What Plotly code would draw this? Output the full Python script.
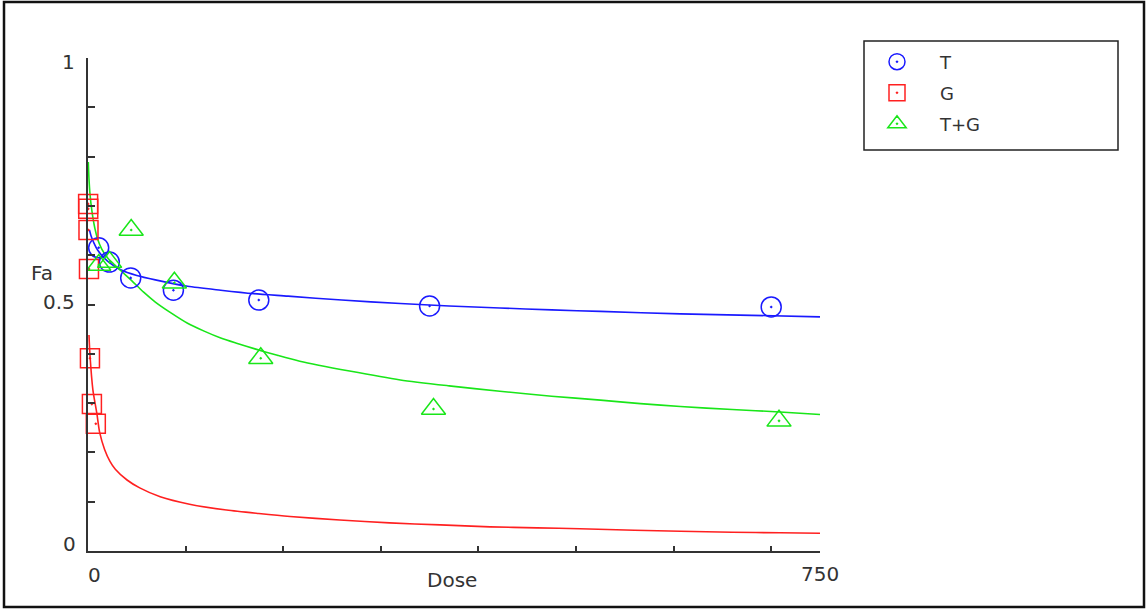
import plotly.graph_objects as go

# ---- data ----
T_dose = [10.94, 21.88, 43.75, 87.5, 175, 350, 700]
T_fa = [0.615, 0.586, 0.554, 0.529, 0.509, 0.497, 0.495]

G_dose = [0.125, 0.25, 0.5, 1, 2, 4, 8]
G_fa = [0.704, 0.694, 0.651, 0.572, 0.391, 0.298, 0.258]

TG_dose = [11.06, 22.13, 44.25, 88.5, 177, 354, 708]
TG_fa = [0.580, 0.586, 0.651, 0.544, 0.391, 0.288, 0.264]

# fitted curves
T_curve_dose = [1.5, 3, 6, 10, 20, 34, 50, 69, 102, 136, 170, 205, 260, 320, 370, 422,
                475, 525, 607, 680, 750]
T_curve_fa = [0.651, 0.640, 0.625, 0.610, 0.588, 0.570, 0.559, 0.550, 0.537, 0.529,
              0.522, 0.517, 0.509, 0.502, 0.497, 0.493, 0.489, 0.486, 0.481, 0.478, 0.475]

G_curve_dose = [1, 2, 5, 9, 12, 17, 22.5, 28, 40, 53, 74, 104, 142, 175, 207, 258, 309,
                361, 412, 460, 504, 560, 607, 660, 709, 750]
G_curve_fa = [0.438, 0.398, 0.327, 0.280, 0.240, 0.206, 0.182, 0.166, 0.144, 0.128,
              0.110, 0.095, 0.083, 0.076, 0.070, 0.063, 0.057, 0.053, 0.049, 0.047,
              0.045, 0.042, 0.040, 0.038, 0.037, 0.036]

TG_curve_dose = [0.3, 1, 2, 4, 7, 10, 14, 20, 27, 34, 45, 57, 69, 85, 102, 119, 136, 153,
                 171, 194, 217, 268, 320, 370, 422, 475, 525, 566, 607, 660, 709, 750]
TG_curve_fa = [0.789, 0.755, 0.725, 0.690, 0.655, 0.632, 0.613, 0.595, 0.581, 0.568,
               0.548, 0.525, 0.505, 0.483, 0.462, 0.446, 0.432, 0.421, 0.410, 0.397,
               0.385, 0.365, 0.347, 0.335, 0.324, 0.314, 0.306, 0.299, 0.293, 0.287,
               0.282, 0.277]

x_tick_vals = [0, 100, 200, 300, 400, 500, 600, 700]
y_tick_vals = [0, 0.1, 0.2, 0.3, 0.4, 0.5, 0.6, 0.7, 0.8, 0.9, 1.0]

BLUE = "#1a1aff"
RED = "#ff2020"
GREEN = "#19e619"
AXIS = "#333333"
TXT = "#333333"
FONT = "DejaVu Sans"
NB = "\u00a0"

fig = go.Figure()

# curves
for xs, ys, c in [(T_curve_dose, T_curve_fa, BLUE),
                  (G_curve_dose, G_curve_fa, RED),
                  (TG_curve_dose, TG_curve_fa, GREEN)]:
    fig.add_trace(go.Scatter(x=xs, y=ys, mode="lines",
                             line=dict(color=c, width=1.6, shape="spline", smoothing=0.7),
                             showlegend=False, hoverinfo="skip"))

# data points
fig.add_trace(go.Scatter(x=T_dose, y=T_fa, mode="markers", name=NB * 4 + "T",
                         marker=dict(symbol="circle-open-dot", size=20,
                                     line=dict(color=BLUE, width=1.5), color=BLUE),
                         cliponaxis=False, legend="legend"))
fig.add_trace(go.Scatter(x=G_dose, y=G_fa, mode="markers", name=NB * 4 + "G",
                         marker=dict(symbol="square-open-dot", size=19,
                                     line=dict(color=RED, width=1.5), color=RED),
                         cliponaxis=False, legend="legend2"))
fig.add_trace(go.Scatter(x=TG_dose, y=TG_fa, mode="markers", name=NB * 4 + "T+G",
                         marker=dict(symbol="triangle-up-open-dot", size=21,
                                     line=dict(color=GREEN, width=1.5), color=GREEN),
                         cliponaxis=False, legend="legend3"))

L, R, T, B = 88, 328, 58, 60
W, H = 1148, 611
pw, ph = W - L - R, H - T - B


def px(xp):
    return (xp - L) / pw


def py(yp):
    return (H - B - yp) / ph


leg_common = dict(bgcolor="rgba(0,0,0,0)", borderwidth=0, xanchor="left", yanchor="middle",
                  font=dict(family=FONT, size=18, color=TXT), itemwidth=30)
fig.update_layout(
    legend=dict(x=px(877), y=py(62), **leg_common),
    legend2=dict(x=px(877), y=py(93), **leg_common),
    legend3=dict(x=px(877), y=py(124), **leg_common),
)

fig.update_layout(
    width=W, height=H,
    margin=dict(l=L, r=R, t=T, b=B, pad=0),
    paper_bgcolor="white", plot_bgcolor="white",
    xaxis=dict(range=[0, 750], showgrid=False, zeroline=False, showline=True,
               linecolor=AXIS, linewidth=2, ticks="inside", ticklen=5, tickwidth=2,
               tickcolor=AXIS, tickvals=x_tick_vals, showticklabels=False),
    yaxis=dict(range=[0, 1], showgrid=False, zeroline=False, showline=True,
               linecolor=AXIS, linewidth=2, ticks="inside", ticklen=7, tickwidth=2,
               tickcolor=AXIS, tickvals=y_tick_vals, showticklabels=False),
    shapes=[
        # legend box
        dict(type="rect", xref="paper", yref="paper", x0=px(864), x1=px(1118),
             y0=py(150), y1=py(41), line=dict(color="#222222", width=1.5)),
        # outer frame
        dict(type="rect", xref="paper", yref="paper", x0=px(4), x1=px(1144),
             y0=py(607), y1=py(2), line=dict(color="#111111", width=2.5)),
    ],
)

f = dict(family=FONT, size=20, color=TXT)
ann = [
    dict(text="1", xref="paper", yref="y", x=0, y=1.0, xshift=-20, yshift=-4),
    dict(text="0.5", xref="paper", yref="y", x=0, y=0.5, xshift=-29, yshift=3),
    dict(text="0", xref="paper", yref="y", x=0, y=0.0, xshift=-19, yshift=7),
    dict(text="Fa", xref="paper", yref="y", x=0, y=0.564, xshift=-46, yshift=0),
    dict(text="0", xref="x", yref="paper", x=0, y=0, xshift=6, yshift=-24),
    dict(text="750", xref="x", yref="paper", x=750, y=0, xshift=0, yshift=-23),
    dict(text="Dose", xref="x", yref="paper", x=373, y=0, xshift=0, yshift=-29),
]
for a in ann:
    a.update(showarrow=False, font=f, xanchor="center", yanchor="middle")
fig.update_layout(annotations=ann)

fig.write_html("out.html", config={"displayModeBar": False},
               post_script="document.body.style.margin='0';document.body.style.overflow='hidden';")
